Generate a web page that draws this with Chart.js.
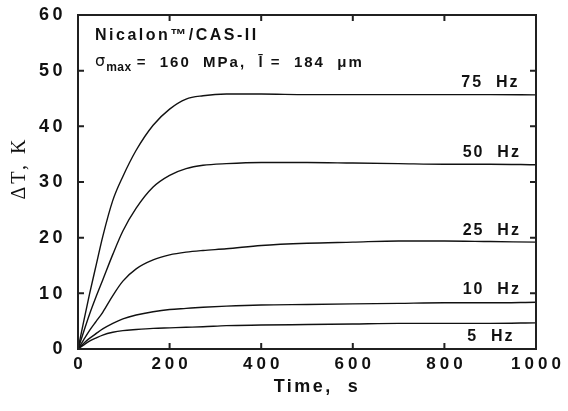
<!DOCTYPE html>
<html>
<head>
<meta charset="utf-8">
<script src="https://cdn.jsdelivr.net/npm/chart.js@4/dist/chart.umd.min.js"></script>
<style>
  html, body { margin: 0; padding: 0; background: #fff; overflow: hidden; }
  canvas { display: block; }
</style>
</head>
<body>
<canvas id="chart" width="568" height="411"></canvas>
<script>
// values
const times = [0, 12, 25, 40, 54, 76, 98, 127, 164, 200, 236, 273, 324, 400, 500, 600, 700, 800, 900, 1000];
const hz75 = [0, 4.8, 9.8, 15.2, 20.2, 26.7, 31.0, 35.7, 40.2, 43.1, 44.9, 45.5, 45.8, 45.8, 45.7, 45.7, 45.7, 45.7, 45.7, 45.65];
const hz50 = [0, 3.0, 6.2, 9.5, 12.4, 17.0, 21.2, 25.3, 29.1, 31.2, 32.4, 33.0, 33.3, 33.5, 33.5, 33.4, 33.3, 33.2, 33.2, 33.1];
const hz25 = [0, 1.6, 3.3, 5.0, 6.6, 9.6, 12.2, 14.4, 16.0, 16.9, 17.4, 17.7, 18.0, 18.6, 19.0, 19.2, 19.4, 19.4, 19.3, 19.2];
const hz10 = [0, 1.0, 1.9, 2.8, 3.6, 4.6, 5.4, 6.1, 6.7, 7.1, 7.3, 7.5, 7.7, 7.9, 8.0, 8.1, 8.2, 8.3, 8.3, 8.4];
const hz5 = [0, 0.7, 1.4, 2.0, 2.5, 3.0, 3.3, 3.5, 3.7, 3.8, 3.9, 4.0, 4.2, 4.3, 4.4, 4.5, 4.6, 4.6, 4.6, 4.7];
const seriesNames = ["75  Hz", "50  Hz", "25  Hz", "10  Hz", "5  Hz"];
const xTickValues = [0, 200, 400, 600, 800, 1000];
const yTickValues = [0, 10, 20, 30, 40, 50, 60];

const seriesValues = [hz75, hz50, hz25, hz10, hz5];
// where each "Hz" label sits, in data units (right edge, baseline)
const labelAnchors = [[964, 47.1], [967, 34.5], [967, 20.5], [967, 9.8], [953, 1.4]];

const INK = "#111";
const SANS = "'Liberation Sans', Arial, sans-serif";

// frame, inward ticks, tick labels and all free text
const decorations = {
	id: "decorations",
	afterDraw(chart) {
		const ctx = chart.ctx;
		const area = chart.chartArea;
		const xs = chart.scales.x;
		const ys = chart.scales.y;
		ctx.save();

		// frame
		ctx.strokeStyle = "#202020";
		ctx.lineWidth = 2;
		ctx.strokeRect(area.left, area.top, area.right - area.left, area.bottom - area.top);
		ctx.beginPath();
		xTickValues.forEach((v) => {
			const px = xs.getPixelForValue(v);
			ctx.moveTo(px, area.bottom);
			ctx.lineTo(px, area.bottom - 6);
			ctx.moveTo(px, area.top);
			ctx.lineTo(px, area.top + 6);
		});
		yTickValues.forEach((v) => {
			const py = ys.getPixelForValue(v);
			ctx.moveTo(area.left, py);
			ctx.lineTo(area.left + 6, py);
			ctx.moveTo(area.right, py);
			ctx.lineTo(area.right - 6, py);
		});
		ctx.stroke();

		ctx.fillStyle = INK;

		// tick labels
		ctx.font = "bold 17px " + SANS;
		ctx.letterSpacing = "4px";
		ctx.textAlign = "center";
		ctx.textBaseline = "middle";
		xTickValues.forEach((v) => {
			ctx.fillText(String(v), xs.getPixelForValue(v) + 2, area.bottom + 15);
		});
		ctx.font = "bold 18px " + SANS;
		ctx.letterSpacing = "3.5px";
		ctx.textAlign = "right";
		yTickValues.forEach((v) => {
			ctx.fillText(String(v), area.left - 12, ys.getPixelForValue(v) + 0.5);
		});

		// series labels
		ctx.font = "bold 16px " + SANS;
		ctx.letterSpacing = "2px";
		ctx.textAlign = "right";
		ctx.textBaseline = "alphabetic";
		seriesNames.forEach((name, i) => {
			const a = labelAnchors[i];
			ctx.fillText(name, xs.getPixelForValue(a[0]), ys.getPixelForValue(a[1]));
		});

		// header text
		ctx.textAlign = "left";
		ctx.font = "bold 16px " + SANS;
		ctx.letterSpacing = "2.5px";
		const tx = area.left + 17;
		ctx.fillText("Nicalon\u2122/CAS-II", tx, area.top + 25);
		let x = tx;
		const base2 = area.top + 52;
		ctx.font = "16px 'DejaVu Sans', sans-serif";
		ctx.letterSpacing = "0px";
		ctx.fillText("\u03c3", x, base2 - 1);
		x += ctx.measureText("\u03c3").width + 1;
		ctx.font = "bold 12px " + SANS;
		ctx.letterSpacing = "0.5px";
		ctx.fillText("max", x, base2 + 4);
		x += ctx.measureText("max").width + 5;
		ctx.font = "bold 15px " + SANS;
		ctx.letterSpacing = "2px";
		ctx.fillText("=  160  MPa,  l\u0304 =  184  \u03bcm", x, base2);

		// axis titles
		ctx.font = "bold 18px " + SANS;
		ctx.letterSpacing = "2.5px";
		ctx.textAlign = "center";
		ctx.textBaseline = "middle";
		ctx.fillText("Time,  s", (area.left + area.right) / 2 + 10, area.bottom + 38);

		ctx.translate(20, (area.top + area.bottom) / 2 - 14);
		ctx.rotate(-Math.PI / 2);
		ctx.font = "20px 'Liberation Serif', 'Times New Roman', serif";
		ctx.letterSpacing = "3px";
		ctx.fillText("\u0394T, K", 0, 0);
		ctx.restore();
	},
};

const datasets = seriesNames.map((name, i) => ({
	label: name.trim(),
	data: times.map((t, j) => ({ x: t, y: seriesValues[i][j] })),
	borderColor: INK,
	borderWidth: 1.4,
	pointRadius: 0,
	fill: false,
	cubicInterpolationMode: "monotone",
}));

new Chart(document.getElementById("chart"), {
	type: "line",
	data: { datasets: datasets },
	plugins: [decorations],
	options: {
		responsive: false,
		animation: false,
		devicePixelRatio: 1,
		layout: { padding: { top: 15, right: 32, bottom: 62, left: 78 } },
		plugins: { legend: { display: false }, tooltip: { enabled: false } },
		scales: {
			x: { type: "linear", min: 0, max: 1000, display: false },
			y: { min: 0, max: 60, display: false },
		},
	},
});
</script>
</body>
</html>
